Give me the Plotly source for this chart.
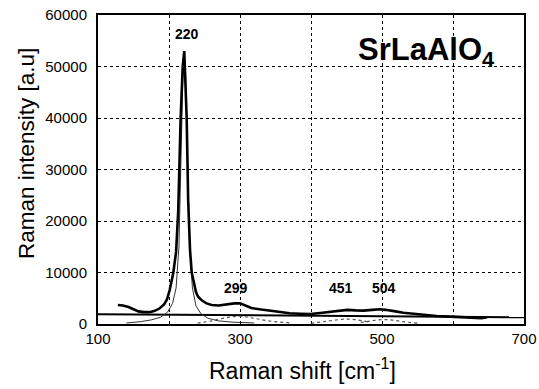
import plotly.graph_objects as go

spec_x = [128, 135, 143, 150, 157, 165, 173, 180, 187, 193, 197, 201, 206, 210, 213,
          216.4, 219.3, 221.5, 222.5, 224.9, 227, 229.6, 232, 235, 238, 241, 247, 253,
          260, 270, 283, 292, 300, 308, 316, 330, 342, 356, 370, 385, 399, 413, 427,
          440, 451, 463, 474, 486, 497, 505, 512, 521, 530, 545, 558, 577, 596, 610,
          625, 640, 648]
spec_y = [3700, 3600, 3300, 2800, 2450, 2300, 2300, 2550, 3050, 3800, 4700, 6600, 9900,
          14000, 22000, 40000, 50000, 53000, 50000, 40000, 24000, 14400, 10000, 7800,
          6200, 5300, 4500, 4000, 3700, 3600, 3900, 4000, 4000, 3600, 3100, 2800, 2600,
          2300, 2100, 2000, 1950, 2150, 2400, 2600, 2750, 2650, 2600, 2750, 2850, 2750,
          2650, 2400, 2200, 1950, 1750, 1550, 1430, 1300, 1200, 1150, 1300]

# Background line
base_x = [100, 700]
base_y = [1900, 1300]

# Fitted component at 220 cm-1
c220_x = [140, 160, 175, 188, 198, 205, 210, 214, 217, 219.5, 221.5, 223.5, 226, 229,
          233, 238, 245, 255, 270, 290, 320]
c220_y = [200, 450, 800, 1300, 2300, 4000, 7000, 15000, 33000, 48000, 52500, 48000,
          33000, 15000, 7000, 3500, 2000, 1100, 600, 350, 200]

# Weak fitted components
c299_x = [240, 260, 280, 299, 320, 340, 370]
c299_y = [200, 600, 1200, 1500, 1100, 600, 200]
c451_x = [400, 420, 440, 451, 465, 480]
c451_y = [150, 500, 850, 950, 800, 400]
c504_x = [470, 485, 495, 504, 515, 530, 550]
c504_y = [300, 600, 800, 850, 750, 450, 150]

# Peak labels
peak_lab = ["220", "299", "451", "504"]
peak_lab_x = [225, 294, 442, 503]
peak_lab_y = [56300, 6900, 6900, 6900]

x_tickvals = [100, 300, 500, 700]
x_ticktext = ["100", "300", "500", "700"]
x_minor_grid = [200, 400, 600]
y_tickvals = [0, 10000, 20000, 30000, 40000, 50000, 60000]
y_ticktext = ["0", "10000", "20000", "30000", "40000", "50000", "60000"]

x_title = "Raman shift [cm<sup>-1</sup>]"
y_title = "Raman intensity [a.u]"
sample = "<b>SrLaAlO<sub>4</sub></b>"

FONT = "Liberation Sans, Arial, sans-serif"

fig = go.Figure()
fig.add_trace(go.Scatter(x=base_x, y=base_y, mode="lines",
                         line=dict(color="black", width=2), showlegend=False))
for cx, cy in [(c299_x, c299_y), (c451_x, c451_y), (c504_x, c504_y)]:
    fig.add_trace(go.Scatter(x=cx, y=cy, mode="lines", line_shape="spline",
                             line=dict(color="#555555", width=1.2, dash="dot"),
                             showlegend=False))
fig.add_trace(go.Scatter(x=c220_x, y=c220_y, mode="lines",
                         line=dict(color="#333333", width=1), showlegend=False))
fig.add_trace(go.Scatter(x=spec_x, y=spec_y, mode="lines",
                         line=dict(color="black", width=2.6), showlegend=False))

for px, lab, ly in zip(peak_lab_x, peak_lab, peak_lab_y):
    fig.add_annotation(x=px, y=ly, text="<b>%s</b>" % lab, showarrow=False,
                       font=dict(family=FONT, size=14, color="black"))

fig.add_annotation(x=562, y=52800, text=sample, showarrow=False,
                   font=dict(family=FONT, size=31, color="black"))

# Axis titles as annotations (positioned in paper coordinates)
fig.add_annotation(xref="paper", yref="paper", x=0.479, y=-0.146, text=x_title,
                   showarrow=False, xanchor="center", yanchor="middle",
                   font=dict(family=FONT, size=23, color="black"))
fig.add_annotation(xref="paper", yref="paper", x=-0.169, y=0.55, text=y_title,
                   showarrow=False, xanchor="center", yanchor="middle", textangle=-90,
                   font=dict(family=FONT, size=22.5, color="black"))

fig.update_xaxes(range=[100, 700], tickvals=x_tickvals, ticktext=x_ticktext,
                 automargin=False,
                 showgrid=True, gridcolor="black", griddash="dot", gridwidth=1.3,
                 minor=dict(tickvals=x_minor_grid, showgrid=True, gridcolor="black",
                            griddash="dot", gridwidth=1.3, ticks=""),
                 showline=True, linecolor="black", linewidth=2, mirror=True,
                 ticks="", zeroline=False,
                 tickfont=dict(family=FONT, size=15, color="black"))
fig.update_yaxes(range=[0, 60000], tickvals=y_tickvals, ticktext=y_ticktext,
                 automargin=False,
                 showgrid=True, gridcolor="black", griddash="dot", gridwidth=1.3,
                 showline=True, linecolor="black", linewidth=2, mirror=True,
                 ticks="", zeroline=False, ticklabelstandoff=6,
                 tickfont=dict(family=FONT, size=15, color="black"))

fig.update_layout(width=539, height=389, margin=dict(l=98, r=15, t=15, b=65),
                  plot_bgcolor="white", paper_bgcolor="white")

fig.write_html("out.html", config={"displayModeBar": False},
               post_script="document.body.style.margin='0';document.body.style.overflow='hidden';")
